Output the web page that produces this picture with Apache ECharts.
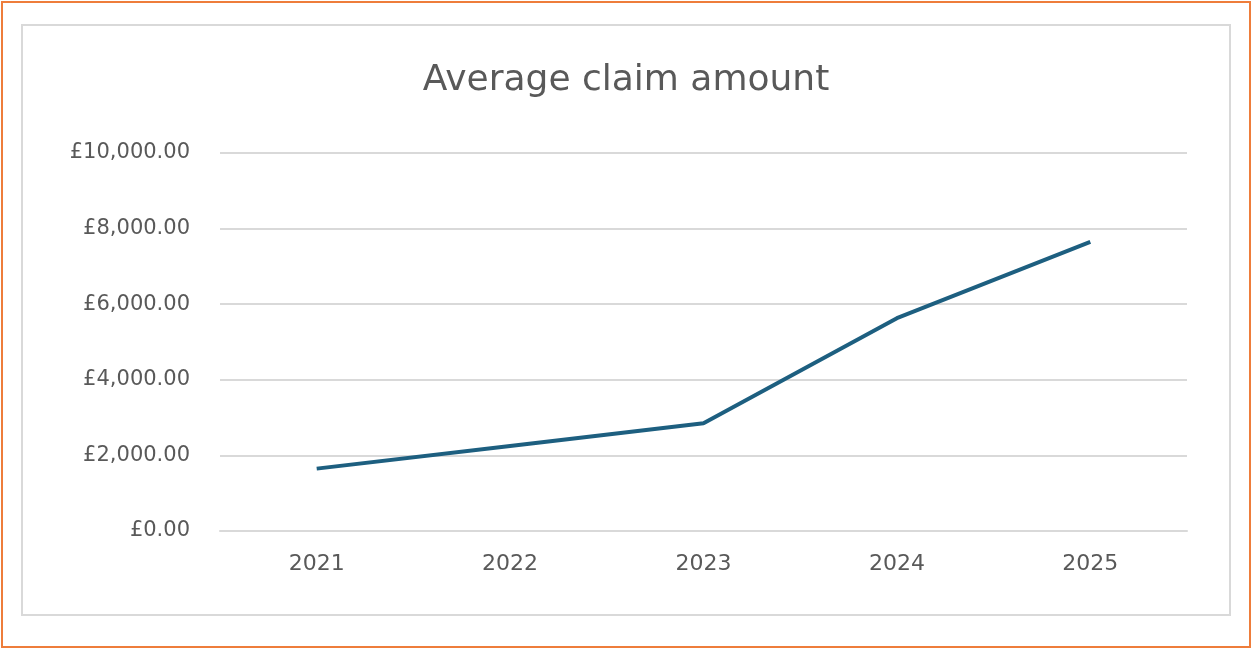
<!DOCTYPE html>
<html><head><meta charset="utf-8">
<script src="https://cdn.jsdelivr.net/npm/echarts@6/dist/echarts.min.js"></script>
<style>html,body{margin:0;padding:0;background:#fff}#c{width:1252px;height:649px}</style>
</head><body><div id="c"></div>
<script>
const categories = ['2021','2022','2023','2024','2025'];
const values = [1650, 2250, 2850, 5630, 7650];
const chart = echarts.init(document.getElementById('c'));
chart.setOption({
  animation:false,
  title:{text:'Average claim amount',left:'center',top:58,textStyle:{fontFamily:'DejaVu Sans',fontSize:36,fontWeight:'normal',color:'#595959'}},
  graphic:[
    {type:'rect',shape:{x:2,y:2,width:1248,height:645},style:{fill:'none',stroke:'#ee7d3b',lineWidth:2}},
    {type:'rect',shape:{x:22,y:25,width:1208,height:590},style:{fill:'none',stroke:'#d9d9d9',lineWidth:2}}
  ],
  grid:{left:220,right:65,top:153,bottom:118},
  xAxis:{type:'category',data:categories,axisLine:{lineStyle:{color:'#d9d9d9',width:2}},axisTick:{show:false},
    axisLabel:{color:'#595959',fontSize:22,fontFamily:'DejaVu Sans',margin:22}},
  yAxis:{type:'value',min:0,max:10000,interval:2000,axisLine:{show:false},axisTick:{show:false},
    splitLine:{lineStyle:{color:'#d9d9d9',width:2}},
    axisLabel:{color:'#595959',fontSize:21,fontFamily:'DejaVu Sans',margin:30,
      formatter:v=>'£'+v.toLocaleString('en-GB',{minimumFractionDigits:2,maximumFractionDigits:2})}},
  series:[{type:'line',data:values,showSymbol:false,lineStyle:{color:'#1d5f80',width:4}}]
});
</script></body></html>
